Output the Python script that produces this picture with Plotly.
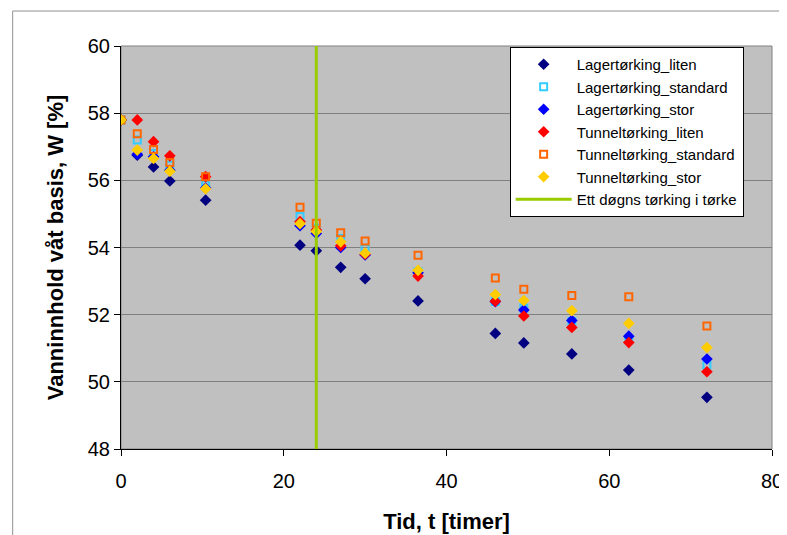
import plotly.graph_objects as go

time_h = [0, 2, 4, 6, 10.4, 22, 24, 27, 30, 36.5, 46, 49.5, 55.4, 62.4, 72]

lager_liten = [57.8, 56.75, 56.4, 55.98, 55.41, 54.07, 53.9, 53.41, 53.07, 52.41, 51.44, 51.16, 50.83, 50.35, 49.54]
lager_standard = [57.8, 57.2, 56.8, 56.45, 55.86, 54.92, 54.57, 54.27, 53.97, 53.28, 52.39, 52.2, 51.8, 51.27, 50.5]
lager_stor = [57.8, 56.78, 56.7, 56.3, 55.77, 54.65, 54.42, 54.0, 53.78, 53.25, 52.39, 52.14, 51.83, 51.36, 50.68]
tunnel_liten = [57.8, 57.8, 57.15, 56.73, 56.11, 54.77, 54.52, 54.05, 53.8, 53.15, 52.4, 51.96, 51.62, 51.17, 50.3]
tunnel_standard = [57.8, 57.39, 56.92, 56.53, 56.11, 55.2, 54.72, 54.44, 54.19, 53.77, 53.09, 52.76, 52.57, 52.53, 51.66]
tunnel_stor = [57.8, 56.9, 56.65, 56.27, 55.75, 54.71, 54.48, 54.17, 53.83, 53.32, 52.6, 52.42, 52.12, 51.74, 51.02]

marker_line_x = [24, 24]
marker_line_y = [48, 60]

x_ticks = [0, 20, 40, 60, 80]
y_ticks = [48, 50, 52, 54, 56, 58, 60]

fig = go.Figure()

series = [
    ("Lagertørking_liten", lager_liten, "diamond", "#000080"),
    ("Lagertørking_standard", lager_standard, "square-open", "#33CCFF"),
    ("Lagertørking_stor", lager_stor, "diamond", "#0000FF"),
    ("Tunneltørking_liten", tunnel_liten, "diamond", "#FF0000"),
    ("Tunneltørking_standard", tunnel_standard, "square-open", "#FF6600"),
    ("Tunneltørking_stor", tunnel_stor, "diamond", "#FFCC00"),
]
for name, vals, sym, col in series:
    is_open = "open" in sym
    fig.add_trace(go.Scatter(
        x=time_h, y=vals, mode="markers", name=name,
        marker=dict(symbol=sym, color=col, size=7 if is_open else 9,
                    line=dict(width=2 if is_open else 0, color=col)),
    ))

fig.add_trace(go.Scatter(
    x=marker_line_x, y=marker_line_y, mode="lines",
    name="Ett døgns tørking i tørke",
    line=dict(color="#99CC00", width=3),
))

fig.update_layout(
    width=787, height=535,
    margin=dict(l=113, r=19, t=38, b=94),
    paper_bgcolor="white",
    plot_bgcolor="#C0C0C0",
    font=dict(family="Arial, Liberation Sans, sans-serif", color="black"),
    showlegend=True,
    legend=dict(
        x=0.597, y=0.9975, xanchor="left", yanchor="top",
        bgcolor="white", bordercolor="black", borderwidth=1,
        font=dict(size=15, family="Arial, Liberation Sans, sans-serif"),
        itemwidth=56, tracegroupgap=0, entrywidth=195,
    ),
    xaxis=dict(
        range=[0, 80], tickvals=x_ticks, ticks="outside", ticklen=6,
        tickcolor="black", showline=True, linecolor="black", linewidth=1,
        showgrid=False, zeroline=False, ticklabelstandoff=8,
        tickfont=dict(size=20),
        title=dict(text="<b>Tid, t [timer]</b>", font=dict(size=22), standoff=22),
    ),
    yaxis=dict(
        range=[48, 60], tickvals=y_ticks, ticks="outside", ticklen=6,
        tickcolor="black", showline=True, linecolor="black", linewidth=1,
        showgrid=True, gridcolor="#808080", gridwidth=1, zeroline=False,
        tickfont=dict(size=20),
        title=dict(text="<b>Vanninnhold våt basis, W [%]</b>", font=dict(size=22), standoff=18),
    ),
    shapes=[
        dict(type="rect", xref="paper", yref="paper", x0=0, x1=1, y0=0, y1=1,
             line=dict(color="#808080", width=1), fillcolor="rgba(0,0,0,0)", layer="below"),
        dict(type="rect", xref="paper", yref="paper", x0=-0.1664, x1=1.05, y0=-0.25, y1=1.0868,
             line=dict(color="#909090", width=1), fillcolor="rgba(0,0,0,0)"),
    ],
)

fig.write_html("out.html")
